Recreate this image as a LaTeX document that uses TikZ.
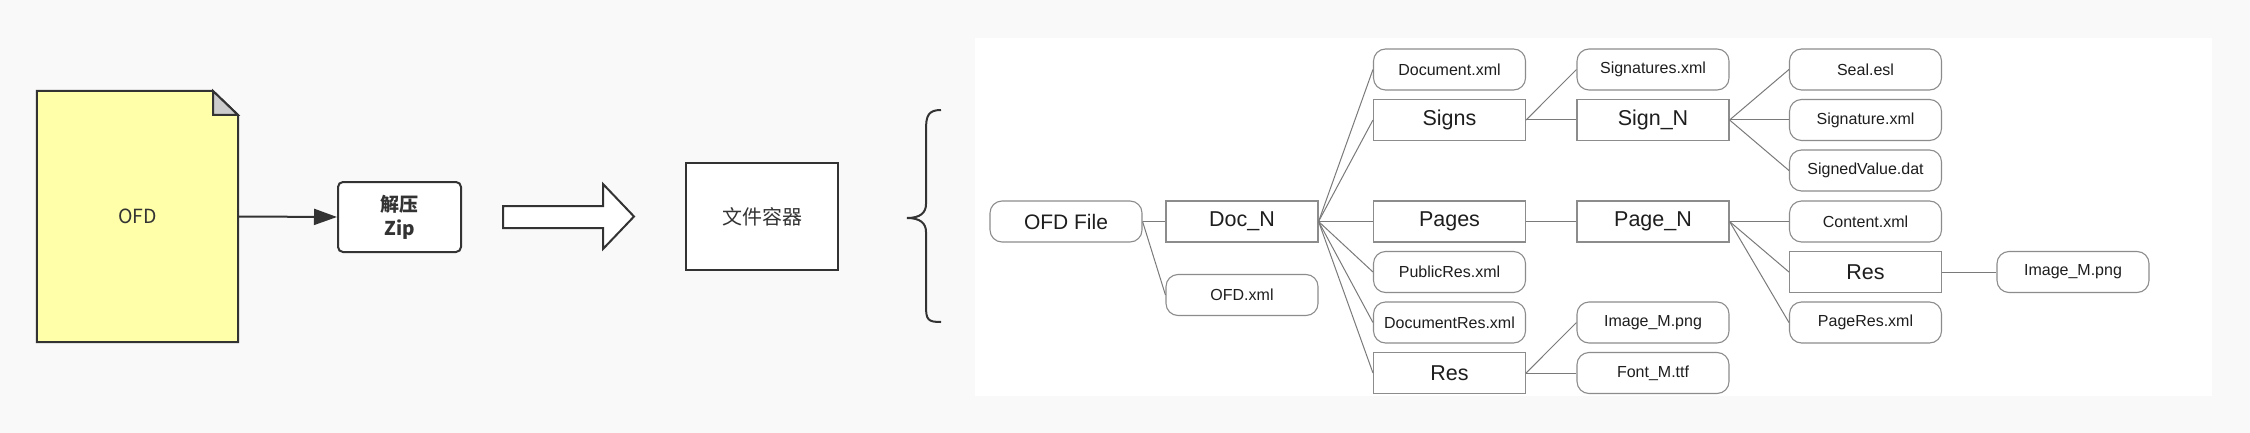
\documentclass[tikz,border=0pt]{standalone}
\usepackage{fontspec}
\setmainfont{Liberation Sans}
\newfontfamily\cjk{Noto Sans CJK SC}
\usetikzlibrary{arrows.meta}
\definecolor{bg}{HTML}{F9F9F9}
\definecolor{dark}{HTML}{333333}
\definecolor{lgray}{HTML}{8C8C8C}
\definecolor{cgray}{HTML}{7A7A7A}
\definecolor{txt}{HTML}{1E1E1E}
\definecolor{docyellow}{HTML}{FFFFAA}
\definecolor{foldgray}{HTML}{CCCCCC}
\tikzset{
  filenode/.style={draw=lgray, line width=1.1pt, rounded corners=12pt, fill=white,
    minimum width=152pt, minimum height=41pt, inner sep=0pt, text=txt,
    font=\fontsize{16}{16}\selectfont},
  dirnode/.style={draw=lgray, line width=1.1pt, fill=white,
    minimum width=152pt, minimum height=41pt, inner sep=0pt, text=txt,
    font=\fontsize{21.5}{22}\selectfont},
  conn/.style={draw=cgray, line width=1pt},
  thick dark/.style={draw=dark, line width=2pt}
}
\begin{document}
\begin{tikzpicture}[x=1pt,y=-1pt]
\useasboundingbox (0,0) rectangle (2250,433);
\fill[bg] (0,0) rectangle (2250,433);
% left part
\node[minimum width=201pt, minimum height=251pt, inner sep=0pt] (ofd) at (137.5,216.5) {};
\filldraw[thick dark, fill=docyellow, line join=miter] (ofd.north west) -- (213,91) -- (238,115) -- (ofd.south east |- 0,342) -- (ofd.south west) -- cycle;
\filldraw[thick dark, fill=foldgray, line join=miter] (213,91) -- (213,115) -- (238,115) -- cycle;
\node[font=\cjk\fontsize{19.5}{20}\selectfont, text=dark] at (ofd.center) {OFD};
\node[thick dark, fill=white, rounded corners=5pt, minimum width=123pt, minimum height=70pt, inner sep=0pt,
  align=center, font=\cjk\bfseries\fontsize{19}{24}\selectfont, text=dark] (zip) at (399.5,217) {解压\\Zip};
\draw[thick dark, -{Triangle[length=23pt,width=16pt]}] (ofd.east) -- (zip.west);
\filldraw[thick dark, fill=white, line join=miter] (503,206) -- (603,206) -- (603,184) -- (634,216.5) -- (603,249) -- (603,228) -- (503,228) -- cycle;
\node[draw=dark, line width=2.5pt, fill=white, minimum width=152pt, minimum height=107pt, inner sep=0pt,
  font=\cjk\fontsize{20}{20}\selectfont, text=dark] (box) at (762,216.5) {文件容器};
\draw[thick dark] (941,110) .. controls (928,110) and (926,116) .. (926,130) -- (926,204) .. controls (926,213) and (920,218) .. (907,218)
  .. controls (920,218) and (926,223) .. (926,232) -- (926,306) .. controls (926,320) and (928,322) .. (941,322);
% right panel
\fill[white] (975,38) rectangle (2212,396);
\node[filenode, font=\fontsize{21}{22}\selectfont] (ofdfile) at (1066,221.5) {OFD File};
\node[dirnode] (docn) at (1242,221.5) {Doc\_N};
\node[filenode] (ofdxml) at (1242,295) {OFD.xml};
\node[filenode] (document) at (1449.5,69.5) {Document.xml};
\node[dirnode] (signs) at (1449.5,120) {Signs};
\node[dirnode] (pages) at (1449.5,221.5) {Pages};
\node[filenode] (publicres) at (1449.5,272) {PublicRes.xml};
\node[filenode] (documentres) at (1449.5,322.5) {DocumentRes.xml};
\node[dirnode] (res) at (1449.5,373) {Res};
\node[filenode] (signatures) at (1653,69.5) {Signatures.xml};
\node[dirnode] (signn) at (1653,120) {Sign\_N};
\node[dirnode] (pagen) at (1653,221.5) {Page\_N};
\node[filenode] (imgA) at (1653,322.5) {Image\_M.png};
\node[filenode] (font) at (1653,373) {Font\_M.ttf};
\node[filenode] (seal) at (1865.5,69.5) {Seal.esl};
\node[filenode] (signature) at (1865.5,120) {Signature.xml};
\node[filenode] (signedvalue) at (1865.5,170.5) {SignedValue.dat};
\node[filenode] (content) at (1865.5,221.5) {Content.xml};
\node[dirnode] (pres) at (1865.5,272) {Res};
\node[filenode] (pageres) at (1865.5,322.5) {PageRes.xml};
\node[filenode] (imgB) at (2073,272) {Image\_M.png};
% connectors
\draw[conn] (ofdfile.east) -- (docn.west);
\draw[conn] (ofdfile.east) -- (ofdxml.west);
\foreach \t in {document,signs,pages,publicres,documentres,res}
  \draw[conn] (docn.east) -- (\t.west);
\draw[conn] (signs.east) -- (signatures.west);
\draw[conn] (signs.east) -- (signn.west);
\foreach \t in {seal,signature,signedvalue}
  \draw[conn] (signn.east) -- (\t.west);
\draw[conn] (pages.east) -- (pagen.west);
\foreach \t in {content,pres,pageres}
  \draw[conn] (pagen.east) -- (\t.west);
\draw[conn] (pres.east) -- (imgB.west);
\draw[conn] (res.east) -- (imgA.west);
\draw[conn] (res.east) -- (font.west);
\end{tikzpicture}
\end{document}
